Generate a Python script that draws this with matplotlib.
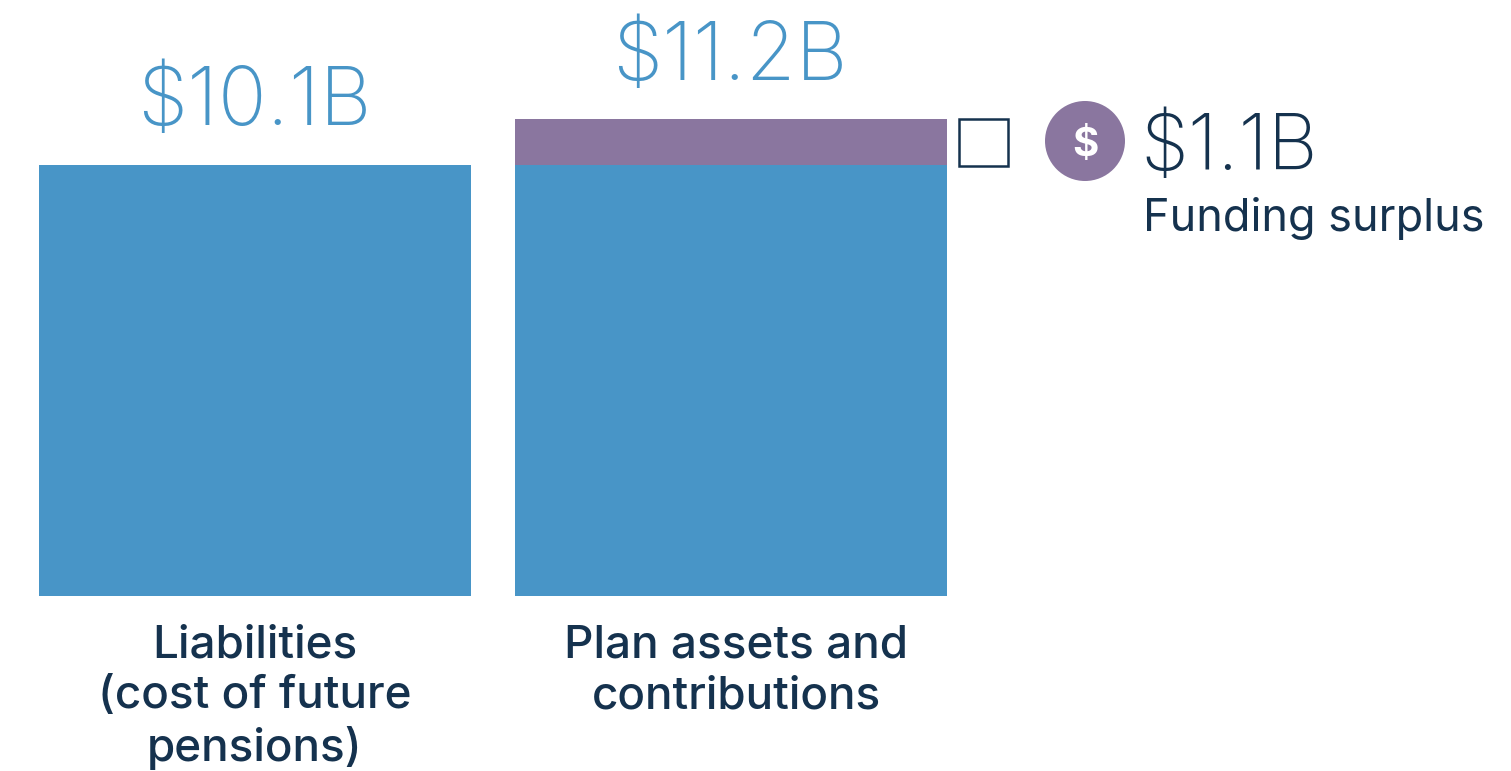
import matplotlib
matplotlib.use("Agg")
import matplotlib.pyplot as plt
from matplotlib.patches import Circle, Rectangle

BLUE = "#4895c7"
PURPLE = "#8a769f"
NAVY = "#15324e"
FONT = ["Inter", "DejaVu Sans"]

categories = ["Liabilities\n(cost of future\npensions)", "Plan assets and\ncontributions"]
base_values = [10.1, 10.1]
surplus_values = [0, 1.08]
total_labels = ["$10.1B", "$11.2B"]
surplus_label = "$1.1B"
surplus_text = "Funding surplus"

plt.rcParams["font.family"] = FONT
plt.rcParams["mathtext.default"] = "regular"

W, H = 1511, 771
fig = plt.figure(figsize=(W / 100, H / 100), dpi=100, facecolor="white")

# axes spans bar baseline to top of figure, bars in data units
ax = fig.add_axes([0, (H - 596) / H, 1, 596 / H])
scale = 431 / 10.1  # px per $B
ax.set_xlim(0, W)
ax.set_ylim(0, 596 / scale)
ax.axis("off")

x_pos = [255, 731]
ax.bar(x_pos, base_values, width=432, color=BLUE, linewidth=0)
ax.bar(x_pos, surplus_values, bottom=base_values, width=432, color=PURPLE, linewidth=0)


def px(x, y):
    return x / W, 1 - y / H


fig.text(*px(254, 104), total_labels[0].replace("$", r"\$"), color=BLUE, fontsize=58,
         ha="center", va="center", fontweight="light")
fig.text(*px(730, 59), total_labels[1].replace("$", r"\$"), color=BLUE, fontsize=58,
         ha="center", va="center", fontweight="light")

fig.text(*px(255, 697), categories[0], color=NAVY, fontsize=33, fontweight="medium",
         ha="center", va="center", linespacing=1.26)
fig.text(*px(736, 671), categories[1], color=NAVY, fontsize=33, fontweight="medium",
         ha="center", va="center", linespacing=1.26)

# bracket box and icon
fig.add_artist(Rectangle(px(959, 166), 49 / W, 47 / H, transform=fig.transFigure,
                         facecolor="white", edgecolor=NAVY, linewidth=1.8))
overlay = fig.add_axes([0, 0, 1, 1])
overlay.set_xlim(0, W)
overlay.set_ylim(H, 0)
overlay.axis("off")
overlay.patch.set_alpha(0)
overlay.add_patch(Circle((1085, 141), 40, facecolor=PURPLE, edgecolor="none"))
overlay.text(1085, 145, r"\$", color="white", fontsize=29, fontweight="bold",
             ha="center", va="center")

fig.text(*px(1140, 149), surplus_label.replace("$", r"\$"), color=NAVY, fontsize=55.5,
         ha="left", va="center", fontweight="light")
fig.text(*px(1143, 218), surplus_text, color=NAVY, fontsize=32.4,
         ha="left", va="center", fontweight="normal")

fig.savefig("out.png", dpi=100, facecolor="white")
